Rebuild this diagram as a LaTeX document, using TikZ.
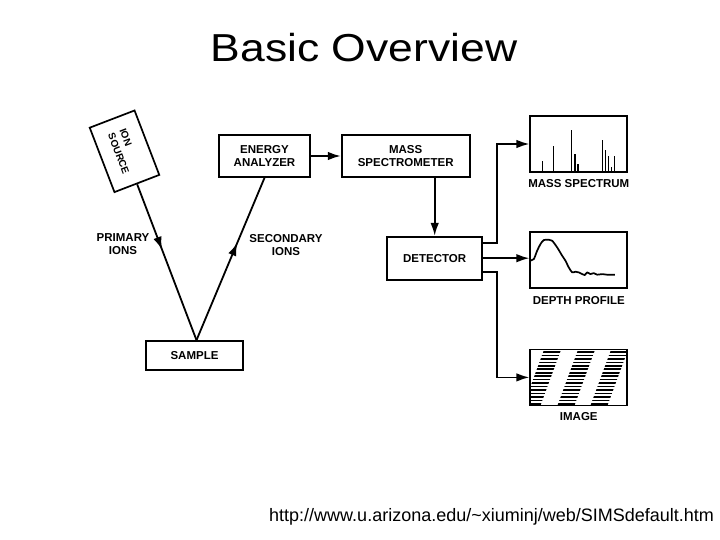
\documentclass[tikz,border=0pt]{standalone}
\usepackage{fontspec}
\setmainfont{Liberation Sans}
\newfontfamily\titlefont[FakeStretch=1.14]{Liberation Sans}
\usetikzlibrary{positioning,arrows.meta,decorations.markings}

\begin{document}
\begin{tikzpicture}[
  x=1pt, y=-1pt,
  font=\fontsize{11.5}{12.8}\selectfont\bfseries,
  box/.style={draw, line width=1.7pt, align=center, inner sep=2pt},
  unit/.style={box, minimum height=42pt},
  outbox/.style={box, minimum width=97pt, minimum height=56pt},
  caption/.style={inner sep=1pt},
  note/.style={align=center, inner sep=1pt},
  arr/.style={-{Latex[length=13pt,width=8.5pt]}, line width=1.8pt},
  ionpath/.style={line width=1.8pt,
    decoration={markings, mark=at position #1 with {\arrow{Latex[length=13pt,width=8.5pt]}}},
    postaction={decorate}},
  peak/.style={line width=1.4pt},
  curve/.style={line width=1.7pt, line join=round},
  hatch/.style={line width=1.6pt}]
\useasboundingbox (0,0) rectangle (720,540);

\node[font=\fontsize{39}{44}\selectfont\titlefont\mdseries, anchor=base] (title) at (364,61.7) {Basic Overview};

% instrument chain
\node[box, rotate=-69, minimum width=69pt, minimum height=48pt, align=left,
  font=\fontsize{10}{12.5}\selectfont\bfseries] (src) at (124.5,151.3) {ION\\SOURCE};
\node[unit, minimum width=91pt] (ea) at (264.5,156) {ENERGY\\ANALYZER};
\node[unit, minimum width=128pt, right=30pt of ea] (ms) {MASS\\SPECTROMETER};
\node[unit, minimum width=95pt, minimum height=43pt, below=58pt of ms, xshift=29pt] (det) {DETECTOR};
\node[box, minimum width=97pt, minimum height=29pt] (smp) at (194.5,355.5) {SAMPLE};
\coordinate (hit) at ([xshift=2pt]smp.north);

\node[note] (prim) at (123,244) {PRIMARY\\IONS};
\node[note] (sec) at (286,245) {SECONDARY\\IONS};

% outputs
\node[outbox] (spec) at (578.8,144) {};
\node[outbox, below=58pt of spec] (depth) {};
\node[outbox, below=60pt of depth] (img) {};
\node[caption, below=5pt of spec] (speclab) {MASS SPECTRUM};
\node[caption, below=7pt of depth] (depthlab) {DEPTH PROFILE};
\node[caption, below=5pt of img] (imglab) {IMAGE};

\draw[ionpath=0.42] (src.east) -- (hit);
\draw[ionpath=0.6] (hit) -- (ea.south);
\draw[arr] (ea) -- (ms);
\draw[arr] (ms.south -| det.north) -- (det.north);
\draw[arr] ([yshift=15pt]det.east) -- ++(14,0) |- (spec.west);
\draw[arr] (det.east) -- (det.east -| depth.west);
\draw[arr] ([yshift=-14pt]det.east) -- ++(14,0) |- (img.west);

% spectrum lines
\foreach \dx/\h in {13.3/11.7, 24/27.3, 42.3/43.3, 45.7/19.3, 48.7/9.3,
                    73.3/33.3, 76/22.7, 79/17.3, 82/6, 85/16.7}
  \draw[peak] ([xshift=\dx pt]spec.south west) -- ++(0,-\h);

% depth profile
\begin{scope}[shift={(depth.west)}]
\draw[curve] plot[smooth, tension=0.45] coordinates {(0,1) (4.3,-0.6) (7.7,-9) (11,-15.6)
  (14.3,-19.6) (19.3,-20) (22.7,-19) (27.7,-12.3) (32.7,-4) (36,1) (39.3,7.7) (42.7,12.7)
  (46,12) (49.3,12.7) (52.7,14.4) (55.3,15.4) (57.7,12.7) (61,14.4) (64.3,13.4)
  (67.7,15) (72.7,14.4) (77.7,15) (85.3,15)};
\end{scope}

% image bands
\begin{scope}
\clip (img.north west) rectangle (img.south east);
\begin{scope}[shift={(img.north west)}]
\clip (15,0) -- (32,0) -- (11,57) -- (-6,57) -- cycle
      (49,0) -- (66,0) -- (45,57) -- (28,57) -- cycle
      (82,0) -- (99,0) -- (78,57) -- (61,57) -- cycle;
\foreach \k in {1,...,16}
  \draw[hatch] (-10,\k*3.45) -- (110,\k*3.45);
\end{scope}
\end{scope}

\node[font=\fontsize{18}{20}\selectfont\mdseries, anchor=base west, inner sep=0pt] (url) at (269,521.7)
  {http://www.u.arizona.edu/\textasciitilde xiuminj/web/SIMSdefault.htm};
\end{tikzpicture}
\end{document}
